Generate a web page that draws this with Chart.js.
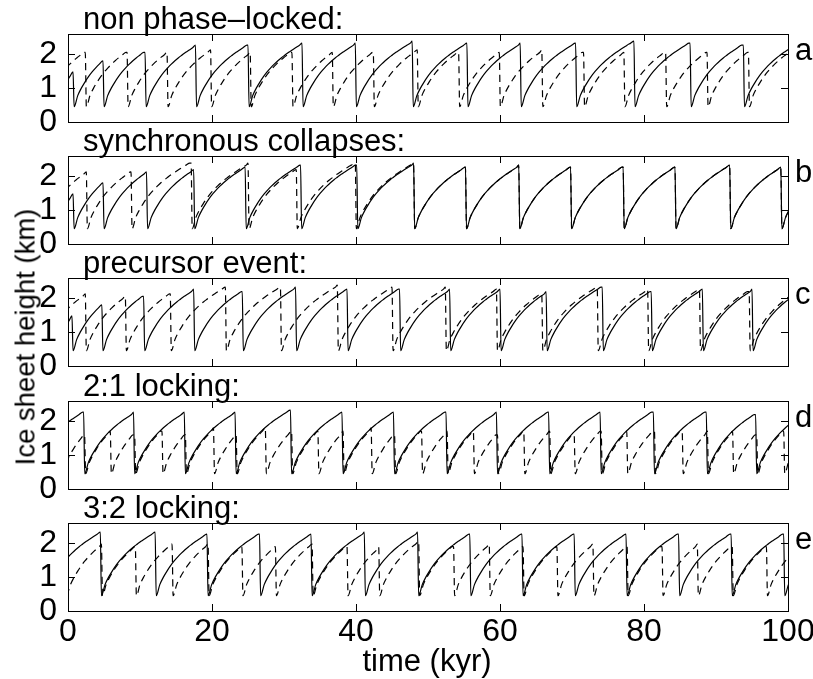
<!DOCTYPE html>
<html>
<head>
<meta charset="utf-8">
<script src="https://cdn.jsdelivr.net/npm/chart.js@4.4.1/dist/chart.umd.min.js"></script>
<style>
  body { margin: 0; background: #fff; }
  #page { position: relative; width: 813px; height: 679px; overflow: hidden; font-family: "Liberation Sans", Arial, sans-serif; color: #000; }
  canvas { position: absolute; left: 0; }
  .txt { position: absolute; font-size: 31px; line-height: 31px; white-space: nowrap; }
</style>
</head>
<body>
<div id="page"></div>
<script>
const X_TICKS = [0, 20, 40, 60, 80, 100];
const Y_TICKS = [0, 1, 2];
const Y_MAX = 2.6;
const TITLES = ['non phase–locked:', 'synchronous collapses:', 'precursor event:', '2:1 locking:', '3:2 locking:'];
const LETTERS = ['a', 'b', 'c', 'd', 'e'];

// ice height on the rising limb, read every 0.5 kyr after a collapse
const GROWTH_STEP = 0.5;
const GROWTH_KM = [0.45, 0.78, 1.0, 1.18, 1.34, 1.48, 1.6, 1.71, 1.81, 1.9, 1.98, 2.06, 2.13, 2.2, 2.27, 2.33, 2.39, 2.45];
const DROP_KYR = 0.15;

// collapse times in kyr (first one is the collapse just before t = 0)
const solidA = [-1.9, 0.7, 4.86, 10.7, 17.7, 25.0, 32.5, 39.9, 47.8, 55.4, 62.8, 70.5, 78.6, 86.4, 93.8];
const dashA = [-3.4, 2.4, 8.2, 13.75, 19.8, 25.3, 31.1, 36.7, 42.4, 48.5, 54.25, 59.9, 65.8, 71.6, 77.2, 83.0, 88.75, 94.5];

const solidB = [-1.9, 0.7, 4.86, 10.9, 17.45, 24.6, 32.3, 40.1, 48.0, 55.2, 62.6, 69.8, 77.1, 84.3, 91.9, 99.0];
const dashB = [-3.5, 2.54, 8.75, 17.1, 25.0, 31.7, 39.9, 48.0, 55.2, 62.6, 69.8, 77.1, 84.3, 91.9, 99.0];

const solidC = [-2.0, 0.55, 4.7, 10.5, 17.45, 24.2, 31.6, 38.75, 46.05, 53.0, 60.0, 66.4, 74.2, 81.0, 88.1, 95.0];
const dashC = [-3.6, 2.4, 7.96, 14.2, 21.85, 29.5, 37.4, 45.0, 52.4, 59.5, 65.8, 73.5, 80.5, 87.7, 94.6];

const solidD = [-5.1, 2.17, 9.1, 16.15, 23.2, 30.9, 38.05, 45.2, 52.5, 59.5, 66.75, 73.9, 81.3, 88.65, 95.5];
const dashD = [-0.9, 2.3, 5.87, 9.25, 13.05, 16.3, 20.2, 23.35, 27.4, 31.05, 34.7, 38.2, 42.1, 45.35, 49.1, 52.65, 56.3,
  59.65, 63.3, 66.9, 70.3, 74.05, 77.6, 81.45, 85.3, 88.8, 92.3, 95.65, 99.4];

const solidE = [-3.1, 4.49, 12.1, 19.3, 26.6, 33.75, 41.15, 48.55, 55.8, 63.05, 70.3, 77.5, 84.8, 92.1, 99.4];
const dashE = [-0.3, 4.64, 9.35, 14.45, 19.45, 24.15, 28.8, 33.9, 38.75, 43.15, 48.7, 53.55, 58.5, 63.2, 67.9, 72.9,
  77.65, 82.5, 87.4, 92.25, 97.0];

const SOLID = [solidA, solidB, solidC, solidD, solidE];
const DASHED = [dashA, dashB, dashC, dashD, dashE];

// layout
const PANEL_TOP = [34, 156, 278, 401, 523];
const PANEL_H = 88;
const PLOT_LEFT = 68;
const PLOT_RIGHT = 788;
const W = 813;
const PAD = 18;
const TXT = 31;

function growth(k) {
  return GROWTH_KM[Math.min(k, GROWTH_KM.length - 1)];
}

function sawtooth(collapses) {
  const pts = [];
  for (let i = 0; i < collapses.length; i++) {
    const start = collapses[i] + DROP_KYR;
    const end = i + 1 < collapses.length ? collapses[i + 1] : 101;
    let k = 0;
    while (start + k * GROWTH_STEP < end) {
      pts.push({ x: start + k * GROWTH_STEP, y: growth(k) });
      k++;
    }
    if (i + 1 < collapses.length) {
      pts.push({ x: end, y: growth(Math.round((end - start) / GROWTH_STEP)) });
    }
  }
  return pts;
}

const frame = {
  id: 'frame',
  afterDraw(chart) {
    const { ctx, chartArea: a, scales: { x, y } } = chart;
    ctx.save();
    ctx.strokeStyle = '#000';
    ctx.lineWidth = 1;
    ctx.strokeRect(Math.round(a.left) + 0.5, Math.round(a.top) + 0.5, Math.round(a.right - a.left), Math.round(a.bottom - a.top));
    ctx.beginPath();
    X_TICKS.forEach(v => {
      if (v <= x.min || v >= x.max) return;
      const px = Math.round(x.getPixelForValue(v)) + 0.5;
      ctx.moveTo(px, a.top); ctx.lineTo(px, a.top + 7);
      ctx.moveTo(px, a.bottom); ctx.lineTo(px, a.bottom - 7);
    });
    Y_TICKS.forEach(v => {
      if (v <= y.min || v >= y.max) return;
      const py = Math.round(y.getPixelForValue(v)) + 0.5;
      ctx.moveTo(a.left, py); ctx.lineTo(a.left + 7, py);
      ctx.moveTo(a.right, py); ctx.lineTo(a.right - 7, py);
    });
    ctx.stroke();
    ctx.restore();
  }
};

const page = document.getElementById('page');
const font = { family: '"Liberation Sans", Arial, sans-serif', size: 32 };

function addText(str, left, baseline, extra) {
  const d = document.createElement('div');
  d.className = 'txt';
  d.textContent = str;
  d.style.left = left + 'px';
  d.style.top = (baseline - 0.8465 * TXT) + 'px';
  if (extra) Object.assign(d.style, extra);
  page.appendChild(d);
  return d;
}

for (let i = 0; i < 5; i++) {
  const last = i === 4;
  const cv = document.createElement('canvas');
  const h = PAD + PANEL_H + (last ? 42 : PAD);
  cv.width = W;
  cv.height = h;
  cv.style.top = (PANEL_TOP[i] - PAD) + 'px';
  page.appendChild(cv);

  new Chart(cv, {
    type: 'line',
    data: {
      datasets: [
        { data: sawtooth(SOLID[i]), borderColor: '#000', borderWidth: 1.2, pointRadius: 0, fill: false, cubicInterpolationMode: 'monotone' },
        { data: sawtooth(DASHED[i]), borderColor: '#000', borderWidth: 1.2, borderDash: [7, 5], pointRadius: 0, fill: false, cubicInterpolationMode: 'monotone' }
      ]
    },
    options: {
      responsive: false,
      animation: false,
      events: [],
      layout: { padding: { top: PAD, bottom: last ? 0 : PAD, left: 0, right: W - PLOT_RIGHT } },
      plugins: { legend: { display: false }, tooltip: { enabled: false } },
      scales: {
        x: {
          type: 'linear', min: 0, max: 100,
          ticks: { display: last, stepSize: 20, color: '#000', font: font, padding: 2, maxRotation: 0, autoSkip: false },
          grid: { display: false, drawTicks: false },
          border: { display: false },
          afterFit(s) { s.height = last ? 42 : 0; s.paddingLeft = 0; s.paddingRight = 0; }
        },
        y: {
          min: 0, max: Y_MAX,
          ticks: { stepSize: 1, includeBounds: false, autoSkip: false, color: '#000', font: font, padding: 11 },
          grid: { display: false, drawTicks: false },
          border: { display: false },
          afterFit(s) { s.width = PLOT_LEFT; s.paddingTop = 0; s.paddingBottom = 0; }
        }
      }
    },
    plugins: [frame]
  });

  addText(TITLES[i], 83, PANEL_TOP[i] - 5);
  addText(LETTERS[i], 795, PANEL_TOP[i] + 26);
}

addText('time (kyr)', 427, 671, { transform: 'translateX(-50%)' });
const yl = addText('Ice sheet height (km)', 25, 0, {});
yl.style.top = '337px';
yl.style.fontSize = '27.5px';
yl.style.transform = 'translate(-50%, -50%) rotate(-90deg)';
</script>
</body>
</html>
